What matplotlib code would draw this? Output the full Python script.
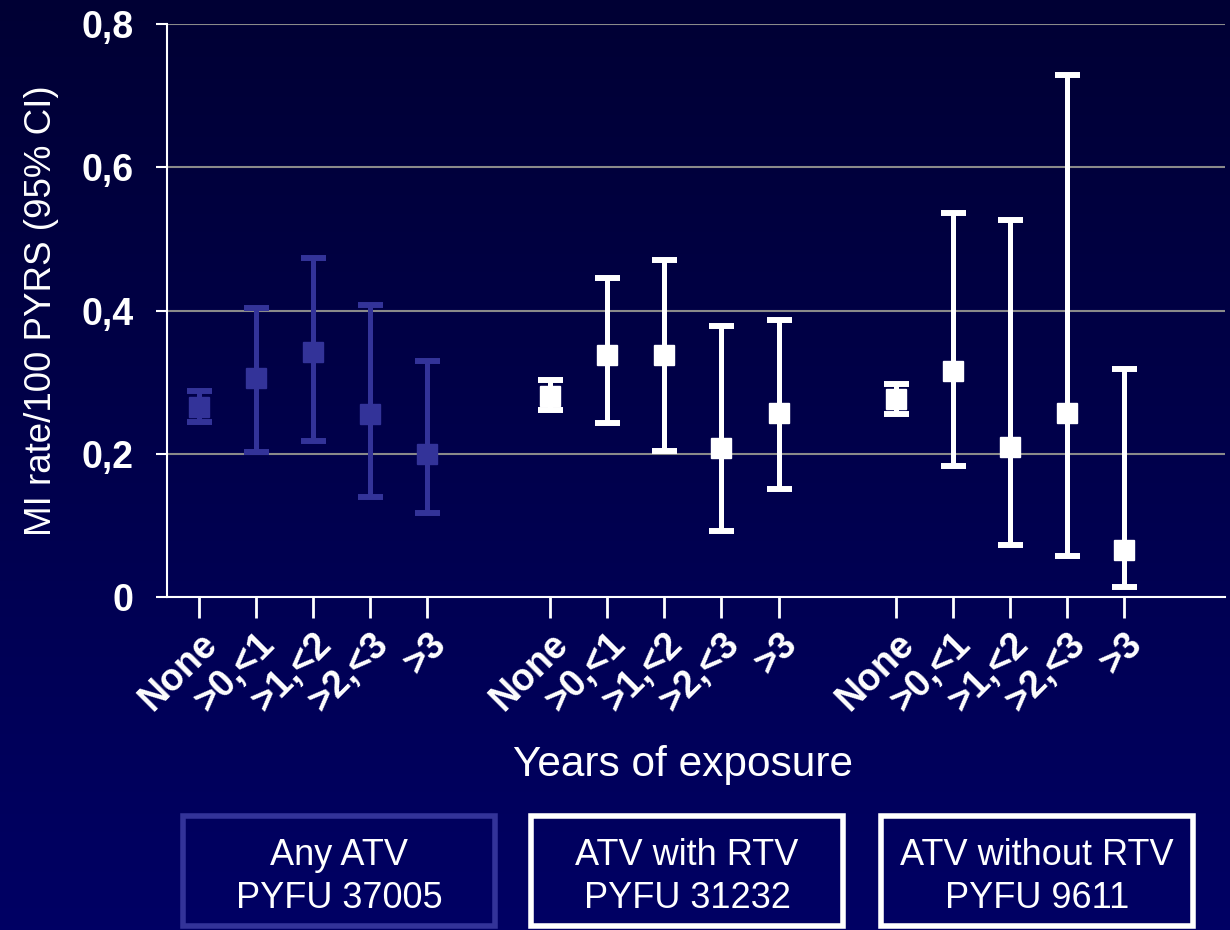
import numpy as np
import matplotlib.pyplot as plt
from matplotlib.patches import Rectangle

plt.rcParams['font.family'] = ['Liberation Sans', 'DejaVu Sans']

exposure = ['None', '>0,<1', '>1,<2', '>2,<3', '>3']
groups = ['Any ATV\nPYFU 37005', 'ATV with RTV\nPYFU 31232', 'ATV without RTV\nPYFU 9611']
group_offsets = [0, 6.15, 12.2]
group_colors = ['#333399', 'white', 'white']

rate = [
    [0.265, 0.306, 0.342, 0.255, 0.200],
    [0.281, 0.338, 0.338, 0.208, 0.257],
    [0.276, 0.316, 0.209, 0.257, 0.066],
]
ci_low = [
    [0.244, 0.202, 0.218, 0.140, 0.117],
    [0.261, 0.243, 0.204, 0.092, 0.151],
    [0.255, 0.183, 0.073, 0.057, 0.014],
]
ci_high = [
    [0.288, 0.403, 0.473, 0.408, 0.330],
    [0.303, 0.445, 0.470, 0.378, 0.387],
    [0.297, 0.536, 0.526, 0.729, 0.318],
]

fig = plt.figure(figsize=(12.3, 9.3), dpi=100)

# navy gradient background
bg = fig.add_axes([0, 0, 1, 1], zorder=-10)
grad = np.linspace(0, 1, 256).reshape(-1, 1)
top = np.array([0, 0, 52]) / 255
bot = np.array([0, 0, 100]) / 255
img = top + (bot - top) * grad[:, :, None]
bg.imshow(img, aspect='auto', extent=[0, 1, 0, 1])
bg.axis('off')

ax = fig.add_axes([0.1358, 0.358, 0.8602, 0.616])
ax.patch.set_alpha(0)

xticks, xlabels = [], []
for g in range(3):
    x = group_offsets[g] + np.arange(len(exposure))
    r = np.array(rate[g])
    lo = r - np.array(ci_low[g])
    hi = np.array(ci_high[g]) - r
    ax.errorbar(x, r, yerr=[lo, hi], fmt='s', color=group_colors[g],
                ecolor=group_colors[g], elinewidth=3.6, capsize=9,
                capthick=4.3, markersize=14, zorder=3)
    xticks += list(x)
    xlabels += exposure

ax.set_ylim(0, 0.8)
ax.set_xlim(-0.56, 17.97)
ax.set_yticks([0, 0.2, 0.4, 0.6, 0.8])
ax.set_yticklabels(['0', '0,2', '0,4', '0,6', '0,8'])
ax.yaxis.grid(True, color='#8a8a8a', linewidth=1.5)
ax.set_axisbelow(True)

ax.set_xticks(xticks)
ax.set_xticklabels(xlabels, rotation=45, ha='right', va='top',
                   rotation_mode='anchor')

for side in ['top', 'right']:
    ax.spines[side].set_visible(False)
for side in ['left', 'bottom']:
    ax.spines[side].set_color('white')
    ax.spines[side].set_linewidth(1.5)

ax.tick_params(axis='y', colors='white', length=8, width=1.5, pad=16,
               labelsize=27)
ax.tick_params(axis='x', colors='white', length=15, width=2, pad=6,
               labelsize=27)
for lab in ax.get_yticklabels() + ax.get_xticklabels():
    lab.set_fontweight('bold')

ax.set_ylabel('MI rate/100 PYRS (95% CI)', color='white', fontsize=26.5,
              labelpad=16)
fig.text(0.555, 0.177, 'Years of exposure', color='white', fontsize=30.5,
         ha='center', va='center')

# group legend boxes
W, H = 1230, 930
boxes = [(183, 816), (531, 816), (881, 816)]
for (bx, by), label, col in zip(boxes, groups, group_colors):
    w, h = 312, 110
    fig.patches.append(Rectangle((bx / W, 1 - (by + h) / H), w / W, h / H,
                                 transform=fig.transFigure, fill=False,
                                 edgecolor=col, linewidth=4))
    fig.text((bx + w / 2) / W, 1 - (by + h / 2) / H - 0.006, label,
             color='white', fontsize=26, ha='center', va='center',
             linespacing=1.3)

fig.savefig('out.png', dpi=100)
